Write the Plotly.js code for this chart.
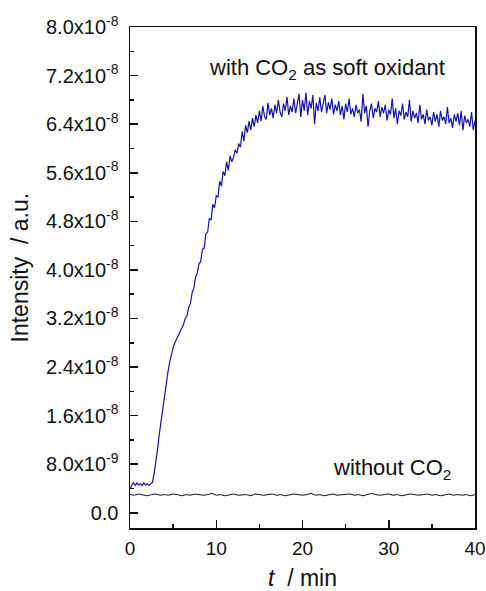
<!DOCTYPE html>
<html>
<head>
<meta charset="utf-8">
<script src="https://cdn.plot.ly/plotly-3.0.1.min.js"></script>
<style>html,body{margin:0;padding:0;background:#fff;}#chart{width:486px;height:591px;}</style>
</head>
<body>
<div id="chart"></div>
<script>
// Intensity values in units of 1e-8 a.u.
// "with CO2" series, sampled every 0.2 min from 0 to 40 min (10 values per row = 2 min)
const withCO2 = [
  0.40, 0.46, 0.50, 0.45, 0.49, 0.46, 0.48, 0.45, 0.49, 0.46,   // 0 - 1.8
  0.48, 0.45, 0.47, 0.50, 0.65, 0.82, 1.05, 1.30, 1.52, 1.72,   // 2 - 3.8
  1.92, 2.12, 2.32, 2.48, 2.62, 2.72, 2.80, 2.86, 2.92, 2.97,   // 4 - 5.8
  3.03, 3.10, 3.20, 3.24, 3.38, 3.44, 3.62, 3.70, 3.88, 3.95,   // 6 - 7.8
  4.10, 4.14, 4.34, 4.36, 4.60, 4.62, 4.85, 4.82, 5.08, 5.02,   // 8 - 9.8
  5.22, 5.20, 5.46, 5.38, 5.62, 5.55, 5.78, 5.64, 5.88, 5.78,   // 10 - 11.8
  5.85, 5.98, 5.92, 6.08, 6.02, 6.28, 6.12, 6.38, 6.26, 6.45,   // 12 - 13.8
  6.30, 6.50, 6.36, 6.55, 6.42, 6.62, 6.45, 6.70, 6.52, 6.48,   // 14 - 15.8
  6.75, 6.55, 6.66, 6.50, 6.72, 6.58, 6.80, 6.60, 6.52, 6.74,   // 16 - 17.8
  6.62, 6.85, 6.55, 6.70, 6.60, 6.82, 6.58, 6.76, 6.90, 6.52,   // 18 - 19.8
  6.80, 6.62, 6.92, 6.55, 6.78, 6.66, 6.88, 6.40, 6.75, 6.62,   // 20 - 21.8
  6.84, 6.60, 6.72, 6.88, 6.58, 6.76, 6.64, 6.82, 6.56, 6.72,   // 22 - 23.8
  6.62, 6.78, 6.55, 6.70, 6.48, 6.74, 6.60, 6.82, 6.56, 6.66,   // 24 - 25.8
  6.52, 6.72, 6.58, 6.64, 6.44, 6.90, 6.58, 6.70, 6.36, 6.62,   // 26 - 27.8
  6.74, 6.50, 6.66, 6.60, 6.78, 6.52, 6.68, 6.58, 6.72, 6.46,   // 28 - 29.8
  6.64, 6.56, 6.82, 6.50, 6.66, 6.40, 6.62, 6.54, 6.74, 6.48,   // 30 - 31.8
  6.60, 6.52, 6.80, 6.44, 6.62, 6.50, 6.58, 6.42, 6.72, 6.48,   // 32 - 33.8
  6.56, 6.40, 6.64, 6.46, 6.52, 6.38, 6.60, 6.44, 6.56, 6.36,   // 34 - 35.8
  6.62, 6.46, 6.52, 6.40, 6.68, 6.42, 6.50, 6.34, 6.56, 6.44,   // 36 - 37.8
  6.58, 6.38, 6.62, 6.30, 6.54, 6.42, 6.48, 6.36, 6.60, 6.30,   // 38 - 39.8
  6.46                                                          // 40
];
const withStep = 0.2;

// "without CO2" series, sampled every 0.5 min from 0 to 40 min
const withoutCO2 = [
  0.30, 0.29, 0.31, 0.30, 0.28, 0.30, 0.31, 0.29, 0.30, 0.29,
  0.31, 0.30, 0.28, 0.30, 0.29, 0.31, 0.30, 0.29, 0.30, 0.32,
  0.29, 0.30, 0.28, 0.30, 0.31, 0.29, 0.30, 0.30, 0.28, 0.31,
  0.30, 0.29, 0.30, 0.31, 0.29, 0.30, 0.28, 0.30, 0.31, 0.30,
  0.29, 0.30, 0.32, 0.29, 0.30, 0.28, 0.30, 0.31, 0.29, 0.30,
  0.30, 0.31, 0.29, 0.30, 0.28, 0.30, 0.32, 0.30, 0.29, 0.30,
  0.31, 0.29, 0.30, 0.28, 0.30, 0.31, 0.30, 0.29, 0.30, 0.31,
  0.29, 0.30, 0.28, 0.30, 0.31, 0.29, 0.30, 0.29, 0.30, 0.28,
  0.30
];
const withoutStep = 0.5;

// axis ticks
const xTicks = [0, 10, 20, 30, 40];
const yTickVals = [0, 0.8, 1.6, 2.4, 3.2, 4.0, 4.8, 5.6, 6.4, 7.2, 8.0];
const yTickText = ['0.0', '8.0x10<sup>-9</sup>', '1.6x10<sup>-8</sup>', '2.4x10<sup>-8</sup>',
  '3.2x10<sup>-8</sup>', '4.0x10<sup>-8</sup>', '4.8x10<sup>-8</sup>', '5.6x10<sup>-8</sup>',
  '6.4x10<sup>-8</sup>', '7.2x10<sup>-8</sup>', '8.0x10<sup>-8</sup>'];

const tWith = withCO2.map((_, i) => +(i * withStep).toFixed(2));
const tWithout = withoutCO2.map((_, i) => +(i * withoutStep).toFixed(2));

const font = 'Liberation Sans, Arial, sans-serif';

const traces = [
  {x: tWithout, y: withoutCO2, type: 'scatter', mode: 'lines',
   line: {color: '#111111', width: 1}, hoverinfo: 'skip'},
  {x: tWith, y: withCO2, type: 'scatter', mode: 'lines',
   line: {color: '#1414a8', width: 1.2}, hoverinfo: 'skip'}
];

const layout = {
  width: 486, height: 591,
  margin: {l: 130, r: 11, t: 27, b: 63},
  paper_bgcolor: '#fff', plot_bgcolor: '#fff',
  showlegend: false,
  font: {family: font, color: '#111', size: 19},
  xaxis: {
    range: [0, 40], tickmode: 'array', tickvals: xTicks,
    ticks: 'inside', ticklen: 8, tickwidth: 1.5, tickcolor: '#111',
    minor: {ticks: 'inside', ticklen: 4, tickwidth: 1.5, tickcolor: '#111', dtick: 5, tick0: 0},
    showline: true, linecolor: '#111', linewidth: 1.5, mirror: true,
    showgrid: false, zeroline: false, ticklabelstandoff: 3,
    tickfont: {family: font, size: 19, color: '#111'},
    title: {text: '<i>t</i>\u00a0 / min', font: {family: font, size: 23, color: '#111'}, standoff: 19}
  },
  yaxis: {
    range: [-0.25, 8.0], tickmode: 'array', tickvals: yTickVals, ticktext: yTickText,
    ticks: 'inside', ticklen: 8, tickwidth: 1.5, tickcolor: '#111',
    minor: {ticks: 'inside', ticklen: 4, tickwidth: 1.5, tickcolor: '#111', dtick: 0.4, tick0: 0},
    showline: true, linecolor: '#111', linewidth: 1.5, mirror: true,
    showgrid: false, zeroline: false, ticklabelstandoff: 6,
    tickfont: {family: font, size: 20, color: '#111'}
  },
  annotations: [
    {x: 0, y: 0.52, xref: 'paper', yref: 'paper', xanchor: 'center', yanchor: 'middle',
     xshift: -110, textangle: -90, showarrow: false,
     text: 'Intensity\u00a0 / a.u.', font: {family: font, size: 23, color: '#111'}},
    {x: 22.8, y: 7.31, xref: 'x', yref: 'y', showarrow: false,
     text: 'with CO<sub>2</sub> as soft oxidant', font: {family: font, size: 22, color: '#111'}},
    {x: 30.4, y: 0.72, xref: 'x', yref: 'y', showarrow: false,
     text: 'without CO<sub>2</sub>', font: {family: font, size: 22, color: '#111'}}
  ]
};

Plotly.newPlot('chart', traces, layout, {displayModeBar: false, staticPlot: true});
</script>
</body>
</html>
